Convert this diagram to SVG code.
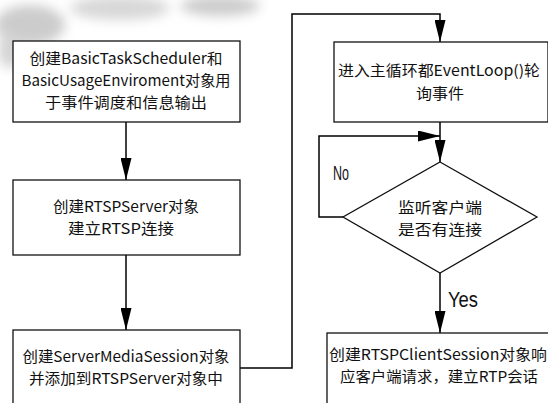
<svg xmlns="http://www.w3.org/2000/svg" width="548" height="403" viewBox="0 0 548 403">
<style>
.box{fill:#fff;stroke:#111;stroke-width:1.3}
.ln{fill:none;stroke:#000;stroke-width:1.5}
.t{font-family:"Noto Sans CJK SC","Noto Sans",sans-serif;font-size:15px;fill:#111;text-anchor:middle}
.lbl{font-family:"Liberation Sans","Noto Sans",sans-serif;fill:#111}
</style>
<defs>
<marker id="ah" markerWidth="22" markerHeight="11" refX="22" refY="5.5" viewBox="0 0 22 11" markerUnits="userSpaceOnUse" orient="auto">
<path d="M0,0 L22,5.5 L0,11 Z" fill="#000"/>
</marker>
<filter id="blur" x="-50%" y="-50%" width="200%" height="200%"><feGaussianBlur stdDeviation="6"/></filter>
</defs>
<rect width="548" height="403" fill="#fff"/>
<g id="watermark" filter="url(#blur)" opacity="0.5">
<ellipse cx="30" cy="25" rx="35" ry="20" fill="#9a9a9a"/>
<ellipse cx="120" cy="8" rx="50" ry="12" fill="#b0b0b0"/>
<ellipse cx="220" cy="6" rx="40" ry="10" fill="#9a9a9a"/>
<ellipse cx="10" cy="50" rx="12" ry="18" fill="#aaa"/>
</g>
<g id="connectors">
<path class="ln" d="M126,122 V180" marker-end="url(#ah)"/>
<path class="ln" d="M126,255 V330" marker-end="url(#ah)"/>
<path class="ln" d="M240,368 H292 V14 H440 V42" marker-end="url(#ah)"/>
<path class="ln" d="M440,122 V162" marker-end="url(#ah)"/>
<path class="ln" d="M343,217 H319 V136 H440" marker-end="url(#ah)"/>
<path class="ln" d="M440,273 V333" marker-end="url(#ah)"/>
<text class="lbl" x="333" y="180" font-size="21" textLength="16" lengthAdjust="spacingAndGlyphs">No</text>
<text class="lbl" x="448" y="307" font-size="22" textLength="30" lengthAdjust="spacingAndGlyphs">Yes</text>
</g>
<g id="n1">
<rect class="box" x="13" y="41" width="227" height="81"/>
<text class="t" x="126" y="64" textLength="193" lengthAdjust="spacingAndGlyphs">创建BasicTaskScheduler和</text>
<text class="t" x="126" y="86" textLength="209" lengthAdjust="spacingAndGlyphs">BasicUsageEnviroment对象用</text>
<text class="t" x="126" y="108" textLength="162" lengthAdjust="spacingAndGlyphs">于事件调度和信息输出</text>
</g>
<g id="n2">
<rect class="box" x="13" y="180" width="227" height="75"/>
<text class="t" x="126" y="212" textLength="146" lengthAdjust="spacingAndGlyphs">创建RTSPServer对象</text>
<text class="t" x="121" y="234" textLength="106" lengthAdjust="spacingAndGlyphs">建立RTSP连接</text>
</g>
<g id="n3">
<rect class="box" x="13" y="330" width="227" height="90"/>
<text class="t" x="126" y="362" textLength="207" lengthAdjust="spacingAndGlyphs">创建ServerMediaSession对象</text>
<text class="t" x="126" y="384" textLength="194" lengthAdjust="spacingAndGlyphs">并添加到RTSPServer对象中</text>
</g>
<g id="n4">
<rect class="box" x="334" y="42" width="214" height="80"/>
<text class="t" x="439" y="76" textLength="202" lengthAdjust="spacingAndGlyphs">进入主循环都EventLoop()轮</text>
<text class="t" x="440" y="99" textLength="48" lengthAdjust="spacingAndGlyphs">询事件</text>
</g>
<g id="n5">
<path class="box" d="M440,162 L537,217 L440,273 L343,217 Z"/>
<text class="t" x="440" y="213" textLength="84" lengthAdjust="spacingAndGlyphs">监听客户端</text>
<text class="t" x="440" y="235" textLength="84" lengthAdjust="spacingAndGlyphs">是否有连接</text>
</g>
<g id="n6">
<rect class="box" x="327" y="333" width="230" height="90"/>
<text class="t" x="438" y="360" textLength="218" lengthAdjust="spacingAndGlyphs">创建RTSPClientSession对象响</text>
<text class="t" x="439" y="382" textLength="198" lengthAdjust="spacingAndGlyphs">应客户端请求，建立RTP会话</text>
</g>
</svg>
